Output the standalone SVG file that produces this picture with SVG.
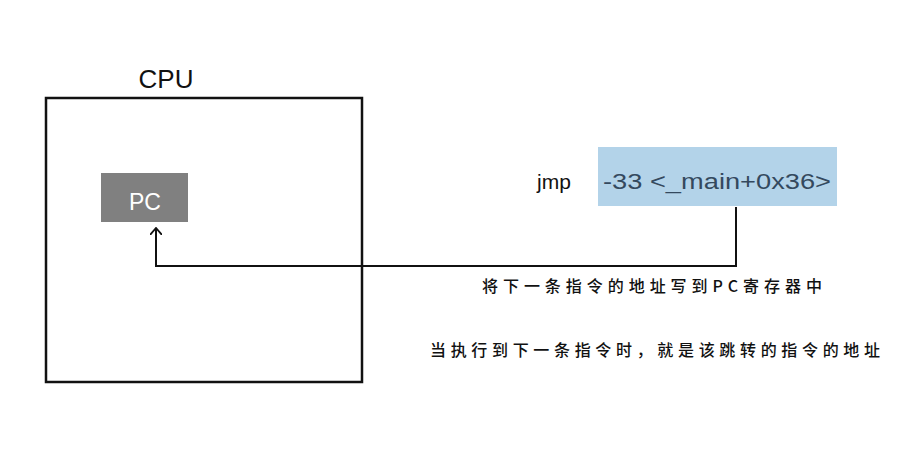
<svg xmlns="http://www.w3.org/2000/svg" width="898" height="460" viewBox="0 0 898 460">
<style>
.lbl{font-family:"Liberation Sans","Noto Sans CJK SC",sans-serif;fill:#111}
.cn{font-family:"Noto Sans CJK SC",sans-serif;font-size:16px;font-weight:500;fill:#111}
.wire{fill:none;stroke:#111;stroke-width:2;stroke-linejoin:miter}
</style>
<defs>
<marker id="chev" viewBox="0 0 8 12" refX="7" refY="6" markerWidth="8" markerHeight="12" markerUnits="userSpaceOnUse" orient="auto">
<path d="M0,0 L7,6 L0,12" fill="none" stroke="#111" stroke-width="1.8"/>
</marker>
</defs>
<rect width="898" height="460" fill="#fff"/>
<g id="cpu">
<rect x="46" y="98" width="316" height="284" fill="none" stroke="#111" stroke-width="2.5"/>
<text class="lbl" x="166" y="88" font-size="26" text-anchor="middle">CPU</text>
</g>
<g id="pc">
<rect x="101" y="173" width="87" height="49" fill="#808080"/>
<text x="145" y="210" font-family="Liberation Sans,sans-serif" font-size="23" fill="#fff" text-anchor="middle">PC</text>
</g>
<g id="jmp">
<text class="lbl" x="537" y="189" font-size="21">jmp</text>
<rect x="598" y="147" width="239" height="59" fill="#b3d3e9"/>
<text x="603" y="189" font-family="Liberation Sans,sans-serif" font-size="22" fill="#34495e" textLength="228" lengthAdjust="spacingAndGlyphs">-33 &lt;_main+0x36&gt;</text>
</g>
<g id="connectors">
<path class="wire" d="M736,207 V266 H156 V228" marker-end="url(#chev)"/>
</g>
<g id="notes">
<text class="cn" x="482" y="292" textLength="340">将下一条指令的地址写到PC寄存器中</text>
<text class="cn" x="430" y="356" textLength="450">当执行到下一条指令时，就是该跳转的指令的地址</text>
</g>
</svg>
